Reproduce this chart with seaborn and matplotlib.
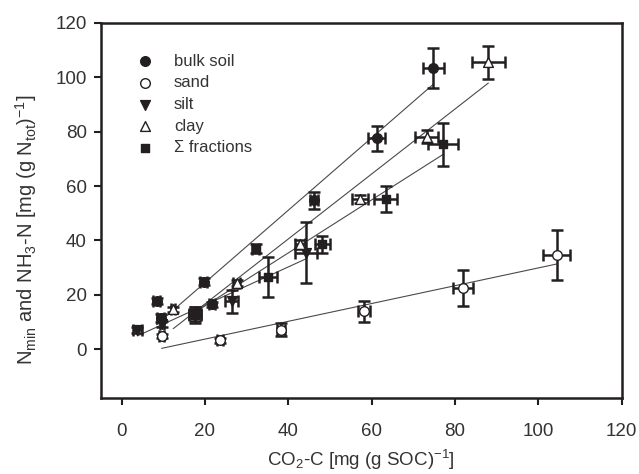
import numpy as np
import pandas as pd
import matplotlib
matplotlib.use('Agg')
import matplotlib.pyplot as plt
import seaborn as sns

# ---- data ----
bulk_x = [8.4, 9.4, 19.7, 21.7, 46.1, 61.2, 74.8]
bulk_y = [17.7, 11.5, 24.8, 16.5, 54.7, 77.5, 103.4]
bulk_xerr = [0.8, 0.8, 0.8, 0.8, 1.0, 2.0, 2.6]
bulk_yerr = [1.0, 1.5, 1.2, 1.0, 3.1, 4.7, 7.5]

sand_x = [9.6, 23.6, 38.2, 58.1, 82.0, 104.4]
sand_y = [4.8, 3.2, 7.2, 13.9, 22.6, 34.5]
sand_xerr = [0.5, 0.8, 1.0, 1.4, 2.4, 3.3]
sand_yerr = [0.8, 0.8, 2.3, 3.9, 6.6, 9.2]

silt_x = [3.8, 9.8, 17.6, 26.4, 44.2]
silt_y = [7.0, 9.3, 13.0, 17.6, 35.4]
silt_xerr = [1.0, 0.5, 1.5, 1.5, 2.7]
silt_yerr = [1.0, 1.0, 2.5, 4.3, 11.2]

clay_x = [12.4, 27.6, 42.8, 57.2, 73.2, 88.0]
clay_y = [14.6, 24.4, 38.5, 55.1, 78.2, 105.5]
clay_xerr = [0.5, 0.8, 1.2, 2.0, 2.8, 4.0]
clay_yerr = [0.8, 1.2, 1.5, 1.5, 2.3, 6.2]

sum_x = [17.6, 32.2, 35.2, 48.1, 63.4, 77.2]
sum_y = [12.6, 37.0, 26.4, 38.5, 55.3, 75.4]
sum_xerr = [1.5, 0.8, 2.2, 1.8, 2.8, 3.6]
sum_yerr = [3.0, 1.5, 7.4, 3.1, 4.7, 7.9]

labels = ['bulk soil', 'sand', 'silt', 'clay', '\u03a3 fractions']
x_ticks = [0, 20, 40, 60, 80, 100, 120]
y_ticks = [0, 20, 40, 60, 80, 100, 120]

# ---- style ----
sns.set_theme(style='ticks')
plt.rcParams['font.family'] = ['Liberation Sans', 'DejaVu Sans']
plt.rcParams['mathtext.fontset'] = 'custom'
plt.rcParams['mathtext.rm'] = 'Liberation Sans'
plt.rcParams['mathtext.it'] = 'Liberation Sans:italic'
plt.rcParams['mathtext.bf'] = 'Liberation Sans:bold'

ink = '#231f20'
txt = '#333333'
fig = plt.figure(figsize=(6.39, 4.74), dpi=100)
ax = fig.add_axes([0.1576, 0.1603, 0.8154, 0.7912])

series = [
    (bulk_x, bulk_y, bulk_xerr, bulk_yerr, 'o', ink, 48),
    (sand_x, sand_y, sand_xerr, sand_yerr, 'o', 'white', 48),
    (silt_x, silt_y, silt_xerr, silt_yerr, 'v', ink, 50),
    (clay_x, clay_y, clay_xerr, clay_yerr, '^', 'white', 50),
    (sum_x, sum_y, sum_xerr, sum_yerr, 's', ink, 40),
]

for (xs, ys, xe, ye, mk, fc, s), lab in zip(series, labels):
    df = pd.DataFrame({'x': xs, 'y': ys})
    sns.regplot(data=df, x='x', y='y', scatter=False, ci=None, truncate=True,
                line_kws=dict(color='#4a4a4a', lw=0.8, zorder=2), ax=ax)

for (xs, ys, xe, ye, mk, fc, s), lab in zip(series, labels):
    ax.errorbar(xs, ys, xerr=xe, yerr=ye, fmt='none', ecolor=ink,
                elinewidth=1.8, capsize=4.2, capthick=1.8, zorder=3)

for (xs, ys, xe, ye, mk, fc, s), lab in zip(series, labels):
    df = pd.DataFrame({'x': xs, 'y': ys})
    sns.scatterplot(data=df, x='x', y='y', marker=mk, s=s, color=fc,
                    edgecolor=ink, linewidth=1.0, zorder=4, ax=ax, label=lab)

ax.set_xlim(-5, 120)
ax.set_ylim(-18, 120)
ax.set_xticks(x_ticks)
ax.set_yticks(y_ticks)
for sp in ax.spines.values():
    sp.set_visible(True)
    sp.set_linewidth(1.8)
    sp.set_color(ink)
ax.tick_params(direction='out', length=5, width=1.5, labelsize=13.5,
               colors=ink, labelcolor=txt, top=False, right=False)
ax.tick_params(axis='x', pad=13)
ax.tick_params(axis='y', pad=5)
ax.set_xlabel(r'CO$_2$-C [mg (g SOC)$^{-1}$]', fontsize=13.5, color=txt,
              labelpad=6)
ax.set_ylabel(r'N$_{\mathrm{min}}$ and NH$_3$-N [mg (g N$_{\mathrm{tot}}$)$^{-1}$]',
              fontsize=14.5, color=txt)
ax.yaxis.set_label_coords(-0.118, 0.45)

leg = ax.legend(loc='upper left', bbox_to_anchor=(0.04, 0.958), frameon=False,
                fontsize=12, handlelength=1.0, handletextpad=1.25,
                labelspacing=0.40, borderpad=0.4)
for t in leg.get_texts():
    t.set_color(txt)

fig.savefig('out.png', dpi=100)
